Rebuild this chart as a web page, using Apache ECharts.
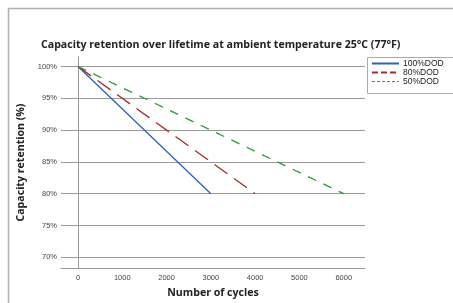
<!DOCTYPE html>
<html>
<head>
<meta charset="utf-8">
<script src="https://cdn.jsdelivr.net/npm/echarts@6/dist/echarts.min.js"></script>
<style>
  html, body { margin: 0; padding: 0; background: #fff; }
  #chart { width: 453px; height: 303px; }
</style>
</head>
<body>
<div id="chart"></div>
<script>
  // data
  const dod100 = [[0, 100], [3000, 80]];
  const dod80 = [[0, 100], [4000, 80]];
  const dod50 = [[0, 100], [6000, 80]];
  const xTicks = [0, 1000, 2000, 3000, 4000, 5000, 6000];
  const yTicks = [70, 75, 80, 85, 90, 95, 100];
  const seriesNames = ['100%DOD', '80%DOD', '50%DOD'];

  const chart = echarts.init(document.getElementById('chart'));
  chart.setOption({
    animation: false,
    textStyle: { fontFamily: 'Open Sans' },
    title: {
      text: 'Capacity retention over lifetime at ambient temperature 25°C (77°F)',
      left: 36,
      top: 34,
      textStyle: { fontSize: 10.6, fontWeight: 'bold', color: '#222', fontFamily: 'Open Sans' }
    },
    graphic: [
      {
        type: 'polyline',
        shape: { points: [[8.5, 303], [8.5, 8.5], [453, 8.5]] },
        style: { stroke: '#b0b0b0', lineWidth: 1.5, fill: null }
      },
      {
        type: 'rect',
        shape: { x: 367.5, y: 57.5, width: 90, height: 36 },
        style: { stroke: '#aaaaaa', lineWidth: 1, fill: '#fff' },
        z: 10
      }
    ],
    legend: {
      data: [
        { name: seriesNames[0] },
        { name: seriesNames[1], lineStyle: { type: [6, 3] } },
        { name: seriesNames[2], lineStyle: { type: [3, 2], width: 1 } }
      ],
      orient: 'vertical',
      left: 371,
      top: 59,
      itemGap: 0,
      itemWidth: 27,
      itemHeight: 11,
      padding: 0,
      z: 20,
      itemStyle: { opacity: 0 },
      textStyle: { fontSize: 8.5, color: '#222', fontFamily: 'Liberation Sans', padding: [0, 0, 0, -1] }
    },
    grid: {
      left: 61,
      right: 88,
      top: 57,
      bottom: 30
    },
    xAxis: {
      type: 'value',
      min: -384,
      max: 6480,
      name: 'Number of cycles',
      nameLocation: 'middle',
      nameGap: 17,
      nameTextStyle: { fontSize: 10.6, fontWeight: 'bold', color: '#222', fontFamily: 'Open Sans' },
      axisLine: { lineStyle: { color: '#999', width: 1 } },
      axisTick: { show: false },
      axisLabel: {
        customValues: xTicks,
        fontSize: 7.5,
        color: '#444',
        margin: 6,
        fontFamily: 'Liberation Sans',
        formatter: v => String(v)
      },
      splitLine: { show: false }
    },
    yAxis: {
      type: 'value',
      min: 68.3,
      max: 101.5,
      name: 'Capacity retention (%)',
      nameLocation: 'middle',
      nameRotate: 90,
      nameGap: 26,
      nameTextStyle: { fontSize: 10.6, fontWeight: 'bold', color: '#222', fontFamily: 'Open Sans' },
      axisLine: { show: true, lineStyle: { color: '#999', width: 1 } },
      axisTick: { show: true, customValues: yTicks, length: 3, lineStyle: { color: '#999' } },
      axisLabel: {
        customValues: yTicks,
        fontSize: 7.5,
        color: '#444',
        margin: 4,
        fontFamily: 'Liberation Sans',
        formatter: v => v + '%'
      },
      splitLine: { show: true, customValues: yTicks, lineStyle: { color: '#999', width: 1 } }
    },
    series: [
      {
        name: seriesNames[0],
        type: 'line',
        data: dod100,
        symbol: 'none',
        lineStyle: { color: '#2a62b8', width: 1.3, type: 'solid' }
      },
      {
        name: seriesNames[1],
        type: 'line',
        data: dod80,
        symbol: 'none',
        lineStyle: { color: '#a52a2a', width: 1.3, type: [16, 8] }
      },
      {
        name: seriesNames[2],
        type: 'line',
        data: dod50,
        symbol: 'none',
        lineStyle: { color: '#2a9a3a', width: 1.3, type: [9, 8] }
      }
    ]
  });
</script>
</body>
</html>
